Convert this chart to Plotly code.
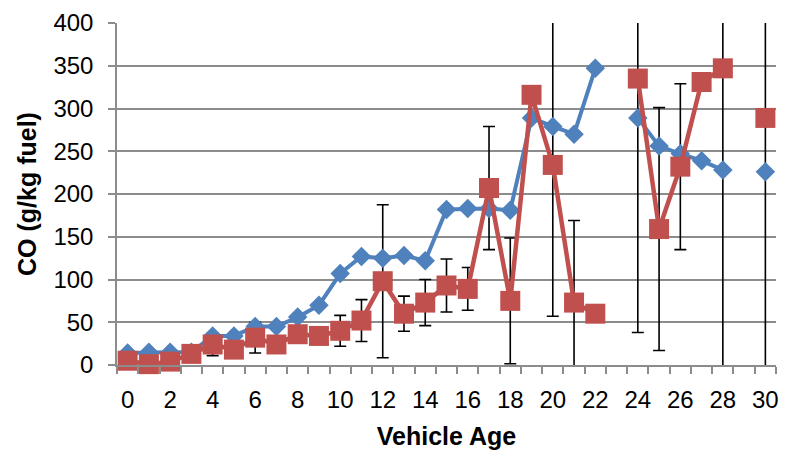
import plotly.graph_objects as go

ages = list(range(31))
blue_co = [14, 15, 15, 15, 34, 34, 45, 45, 56, 70, 107, 127, 125, 128, 122, 182, 183, 183, 181,
           289, 279, 270, 347, None, 289, 256, 247, 239, 228, None, 226]
red_co = [5, 1, 4, 13, 24, 18, 32, 24, 36, 34, 40, 52, 98, 60, 73, 93, 89, 207, 75,
          316, 234, 73, 60, None, 335, 159, 232, 331, 347, None, 289]
red_err = [3, 3, 3, 4, 13, 5, 18, 6, 8, 6, 18, 24.5, 89.5, 20.5, 27, 31, 25, 72, 73.5,
           0, 177, 96, 0, None, 297, 142, 97, 0, 360, None, 300]
x_tick_vals = list(range(0, 31, 2))
y_tick_vals = list(range(0, 401, 50))

BLUE = "#4F81BD"
RED = "#C0504D"
GRID = "#8C8C8C"
FONT = "Liberation Sans, Arial, sans-serif"

fig = go.Figure()

# error bars (clipped to the plot area)
fig.add_trace(go.Scatter(
    x=ages, y=red_co, mode="markers",
    marker=dict(size=1, color="rgba(0,0,0,0)"),
    error_y=dict(type="data", array=red_err, symmetric=True,
                 color="black", thickness=1.6, width=6),
    cliponaxis=True, showlegend=False, hoverinfo="skip"))

fig.add_trace(go.Scatter(
    x=ages, y=blue_co, mode="lines+markers",
    line=dict(color=BLUE, width=4),
    marker=dict(symbol="diamond", size=15, color=BLUE),
    connectgaps=False, cliponaxis=False, showlegend=False))

fig.add_trace(go.Scatter(
    x=ages, y=red_co, mode="lines+markers",
    line=dict(color=RED, width=4.5),
    marker=dict(symbol="square", size=20, color=RED),
    connectgaps=False, cliponaxis=False, showlegend=False))

fig.update_layout(
    width=788, height=455,
    margin=dict(l=117, r=9, t=20, b=86),
    paper_bgcolor="white", plot_bgcolor="white",
    font=dict(family=FONT, size=24, color="black"),
    showlegend=False,
)

fig.update_xaxes(
    range=[-0.5, 30.5],
    tickmode="array", tickvals=x_tick_vals,
    ticks="", showgrid=False, zeroline=False,
    showline=True, linecolor=GRID, linewidth=1.5,
    tickfont=dict(size=24),
    ticklabelstandoff=12,
    minor=dict(tickmode="array", tickvals=[a - 0.5 for a in ages] + [ages[-1] + 0.5],
               ticks="outside", ticklen=7, tickcolor=GRID, tickwidth=1.5, showgrid=False),
    title=dict(text="<b>Vehicle Age</b>", font=dict(size=25), standoff=16),
)

fig.update_yaxes(
    range=[0, 400],
    tickmode="array", tickvals=y_tick_vals,
    ticks="outside", ticklen=7, tickcolor=GRID, tickwidth=1.5,
    showgrid=True, gridcolor=GRID, gridwidth=1.5,
    zeroline=False,
    showline=True, linecolor=GRID, linewidth=1.5,
    tickfont=dict(size=24),
    ticklabelstandoff=10,
    title=dict(text="<b>CO (g/kg fuel)</b>", font=dict(size=25), standoff=10),
)

fig.write_html("out.html")
